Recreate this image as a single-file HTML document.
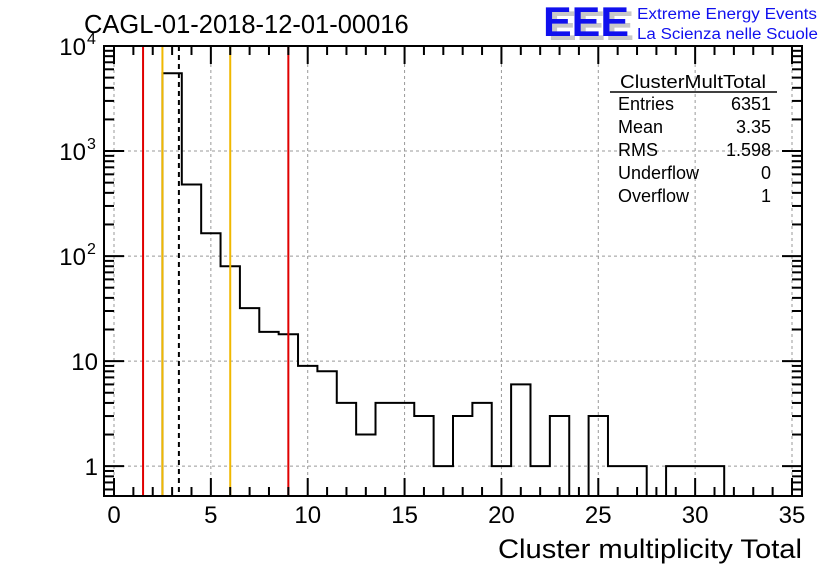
<!DOCTYPE html>
<html><head><meta charset="utf-8"><style>
body{margin:0;background:#fff}
svg{display:block;font-family:"Liberation Sans",sans-serif}
</style></head><body>
<svg id="c" width="836" height="572">
<text x="84" y="33" font-size="25.5">CAGL-01-2018-12-01-00016</text>
<g>
<text x="548" y="40" font-size="42" font-weight="bold" fill="#c8c8c8" textLength="86" lengthAdjust="spacingAndGlyphs">EEE</text>
<text x="543" y="36" font-size="42" font-weight="bold" fill="#1010ee" textLength="86" lengthAdjust="spacingAndGlyphs">EEE</text>
<text x="637" y="19" font-size="15.5" fill="#1010ee" textLength="180" lengthAdjust="spacingAndGlyphs">Extreme Energy Events</text>
<text x="637" y="39" font-size="15.5" fill="#1010ee" textLength="181" lengthAdjust="spacingAndGlyphs">La Scienza nelle Scuole</text>
</g>
<text x="802" y="558" font-size="27" text-anchor="end" textLength="304" lengthAdjust="spacingAndGlyphs">Cluster multiplicity Total</text>
<g id="grid"></g><g id="marks"></g><g id="axes"></g>
<g font-size="18">
<text x="693" y="88" text-anchor="middle" textLength="146" lengthAdjust="spacingAndGlyphs">ClusterMultTotal</text>
<line x1="610" y1="92" x2="777" y2="92" stroke="#000" stroke-width="1.5"/>
<text x="618" y="110">Entries</text><text x="771" y="110" text-anchor="end">6351</text>
<text x="618" y="133">Mean</text><text x="771" y="133" text-anchor="end">3.35</text>
<text x="618" y="156">RMS</text><text x="771" y="156" text-anchor="end">1.598</text>
<text x="618" y="179">Underflow</text><text x="771" y="179" text-anchor="end">0</text>
<text x="618" y="202">Overflow</text><text x="771" y="202" text-anchor="end">1</text>
</g>
</svg>
<script>
const binLow=[2.5,3.5,4.5,5.5,6.5,7.5,8.5,9.5,10.5,11.5,12.5,13.5,14.5,15.5,16.5,17.5,18.5,19.5,20.5,21.5,22.5,23.5,24.5,25.5,26.5,27.5,28.5,29.5,30.5];
const counts=[5500,480,165,80,32,19,18,9,8,4,2,4,4,3,1,3,4,1,6,1,3,0,3,1,1,0,1,1,1];
const xTicks=[0,5,10,15,20,25,30,35];
const yTicks=[1,10,100,1000,10000];
const yBase=["1","10","10","10","10"];
const yExp=["","","2","3","4"];
const redLines=[1.5,9.0], orangeLines=[2.5,6.0], meanLine=[3.35];
const L=104,R=802,T=46,B=496;
const X=v=>114+v*(792-114)/35;
const ymin=Math.log10(0.52),ymax=4;
const Y=v=>v<=0?B:B-(Math.log10(v)-ymin)/(ymax-ymin)*(B-T);
const NS="http://www.w3.org/2000/svg";
function mk(p,tag,a){const e=document.createElementNS(NS,tag);for(const k in a)e.setAttribute(k,a[k]);(typeof p==='string'?document.getElementById(p):p).appendChild(e);return e;}
xTicks.forEach(t=>{if(X(t)>L+2&&X(t)<R-2){const e=mk('grid','line',{x1:X(t),x2:X(t),y1:T,y2:B,stroke:'#999','stroke-dasharray':'3,3'});

}});
yTicks.forEach(t=>{if(Y(t)>T+2){const e=mk('grid','line',{x1:L,x2:R,y1:Y(t),y2:Y(t),stroke:'#999','stroke-dasharray':'3,3'});

}});
let d=`M${X(binLow[0])},${B}`;
binLow.forEach((b,i)=>{d+=` L${X(b)},${Y(counts[i])} L${X(b+1)},${Y(counts[i])}`;});
d+=` L${X(binLow[binLow.length-1]+1)},${B}`;
const h=mk('marks','path',{d:d,fill:'none',stroke:'#000','stroke-width':2});


function vline(v,col,dash,name){const e=mk('marks','line',{x1:X(v),x2:X(v),y1:T,y2:B,stroke:col,'stroke-width':2});if(dash)e.setAttribute('stroke-dasharray',dash);

}
redLines.forEach(v=>vline(v,'#e00000',null,'red-cut-line'));
orangeLines.forEach(v=>vline(v,'#f0b800',null,'orange-cut-line'));
meanLine.forEach(v=>vline(v,'#000','5,4','mean-line'));
const f=mk('axes','rect',{x:L,y:T,width:R-L,height:B-T,fill:'none',stroke:'#000','stroke-width':2});


for(let v=0;v<=35;v++){const len=v%5==0?18:9;
mk('axes','line',{x1:X(v),x2:X(v),y1:B,y2:B-len,stroke:'#000','stroke-width':2});
mk('axes','line',{x1:X(v),x2:X(v),y1:T,y2:T+len,stroke:'#000','stroke-width':2});}
xTicks.forEach(t=>{const e=mk('axes','text',{x:X(t),y:523,'font-size':24,'text-anchor':'middle'});e.textContent=t;

});
for(let dec=-1;dec<4;dec++)for(let m=1;m<10;m++){const v=m*Math.pow(10,dec);if(v<0.52)continue;const y=Y(v);const len=m==1?20:10;
mk('axes','line',{x1:L,x2:L+len,y1:y,y2:y,stroke:'#000','stroke-width':2});
mk('axes','line',{x1:R,x2:R-len,y1:y,y2:y,stroke:'#000','stroke-width':2});}
yTicks.forEach((t,i)=>{const g=mk('axes','g',{});


const ex=yExp[i];const right=ex?86:98;
const b=mk(g,'text',{x:right,y:Y(t)+9,'font-size':24,'text-anchor':'end'});b.textContent=yBase[i];
if(ex){const s=mk(g,'text',{x:right+1,y:Y(t)-2,'font-size':16});s.textContent=ex;}});
</script>
</body></html>
